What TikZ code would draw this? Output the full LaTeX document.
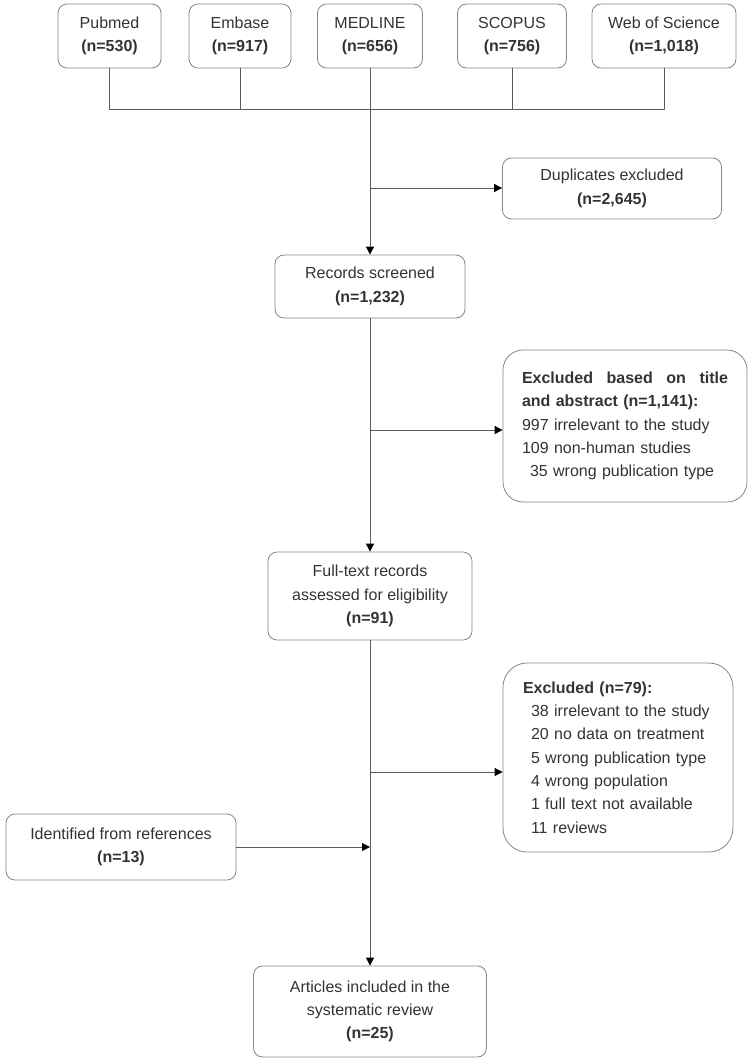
\documentclass[tikz,border=0pt]{standalone}
\usepackage{fontspec}
\setmainfont{Liberation Sans}
\usetikzlibrary{arrows.meta}
\setlength{\parindent}{0pt}
\definecolor{txt}{HTML}{333333}
\definecolor{boxgray}{HTML}{858585}
\definecolor{linegray}{HTML}{5A5A5A}
\tikzset{
  box/.style={draw=boxgray, line width=0.8pt, rounded corners=9pt, align=center,
    inner sep=0pt, text=txt, font=\fontsize{16}{23.3}\selectfont},
  listbox/.style={box, align=left, rounded corners=24pt},
  conn/.style={draw=linegray, line width=0.8pt},
  arr/.style={conn, -{Triangle[length=8pt,width=8pt,color=black,fill=black]}},
}
\begin{document}
\begin{tikzpicture}[x=1pt,y=-1pt]
\useasboundingbox (0,0) rectangle (749,1061);
% sources
\node[box, minimum width=103pt, minimum height=64pt] (pub) at (109.5,36) {Pubmed\\\textbf{(n=530)}};
\node[box, minimum width=102pt, minimum height=64pt] (emb) at (240,36) {Embase\\\textbf{(n=917)}};
\node[box, minimum width=105pt, minimum height=64pt] (med) at (370,36) {MEDLINE\\\textbf{(n=656)}};
\node[box, minimum width=109pt, minimum height=64pt] (sco) at (512,36) {SCOPUS\\\textbf{(n=756)}};
\node[box, minimum width=144pt, minimum height=64pt] (wos) at (664,36) {Web of Science\\\textbf{(n=1,018)}};
% main column
\node[box, minimum width=219pt, minimum height=61pt] (dup) at (612,188.5) {Duplicates excluded\\\textbf{(n=2,645)}};
\node[box, minimum width=190pt, minimum height=63pt] (rec) at (370,286.5) {Records screened\\\textbf{(n=1,232)}};
\node[listbox, text width=206pt, inner xsep=19pt, minimum height=152pt, rounded corners=20pt] (ex1) at (625,426)
  {\textbf{Excluded\hfill based\hfill on\hfill title}\\
   \textbf{and abstract (n=1,141):}\\
   997 irrelevant to the study\\
   109 non-human studies\\
   \hspace*{8pt}35 wrong publication type};
\node[box, minimum width=204pt, minimum height=88pt] (full) at (370,596) {Full-text records\\assessed for eligibility\\\textbf{(n=91)}};
\node[listbox, text width=190pt, inner xsep=20pt, minimum height=189pt] (ex2) at (618,757.5)
  {\textbf{Excluded (n=79):}\\
   \hspace*{8pt}38 irrelevant to the study\\
   \hspace*{8pt}20 no data on treatment\\
   \hspace*{8pt}5 wrong publication type\\
   \hspace*{8pt}4 wrong population\\
   \hspace*{8pt}1 full text not available\\
   \hspace*{8pt}11 reviews};
\node[box, minimum width=230pt, minimum height=66pt] (ident) at (121,847) {Identified from references\\\textbf{(n=13)}};
\node[box, minimum width=233pt, minimum height=91pt] (final) at (370,1011.5) {Articles included in the\\systematic review\\\textbf{(n=25)}};
% connectors
\coordinate (j) at (370,109);
\draw[conn] (pub.south) |- (j);
\draw[conn] (emb.south) |- (j);
\draw[conn] (sco.south) |- (j);
\draw[conn] (wos.south) |- (j);
\draw[arr] (med.south) -- (rec.north);
\coordinate (b1) at (370,188);
\draw[arr] (b1) -- (b1 -| dup.west);
\draw[arr] (rec.south) -- (full.north);
\coordinate (b2) at (370,430);
\draw[arr] (b2) -- (b2 -| ex1.west);
\draw[arr] (full.south) -- (final.north);
\coordinate (b3) at (370,772);
\draw[arr] (b3) -- (b3 -| ex2.west);
\draw[arr] (ident.east) -- (ident.east -| full.south);
\end{tikzpicture}
\end{document}
